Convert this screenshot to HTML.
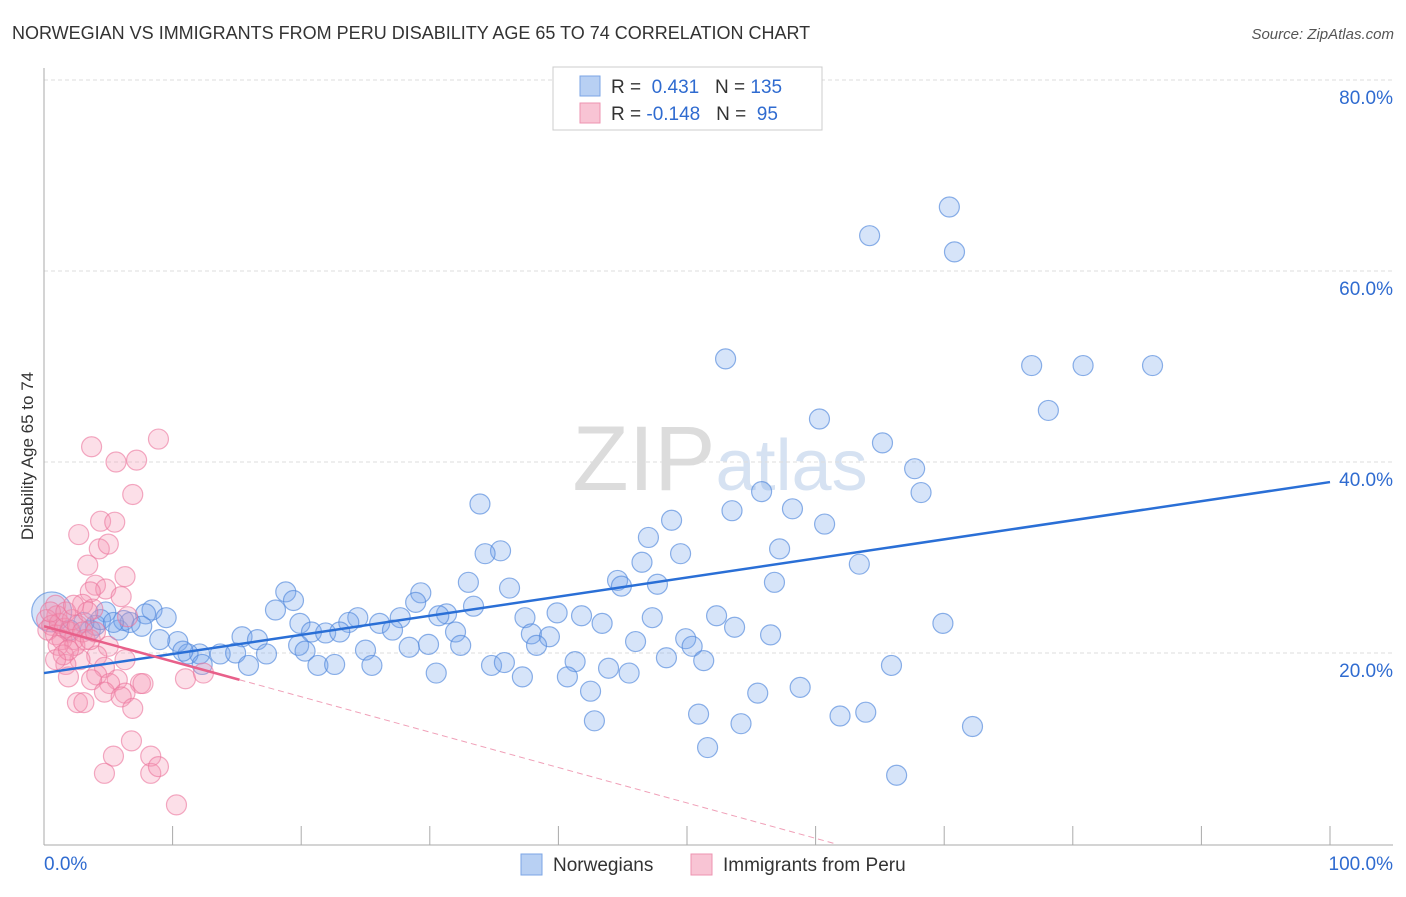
<!DOCTYPE html>
<html><head><meta charset="utf-8"><style>
body{margin:0;background:#fff;font-family:"Liberation Sans",sans-serif;}
svg text{font-family:"Liberation Sans",sans-serif;}
</style></head><body>
<svg id="chart" width="1406" height="892" viewBox="0 0 1406 892" xmlns="http://www.w3.org/2000/svg">
<text x="12" y="39" font-size="18" fill="#333">NORWEGIAN VS IMMIGRANTS FROM PERU DISABILITY AGE 65 TO 74 CORRELATION CHART</text>
<text x="1394" y="39" font-size="15" fill="#555" text-anchor="end" font-style="italic">Source: ZipAtlas.com</text>
<text x="720" y="490" font-size="92" fill="#e4e4e4" text-anchor="middle" font-family="Liberation Serif"><tspan fill="#dcdcdc">ZIP</tspan><tspan fill="#d6e2f2" font-family="Liberation Sans" font-size="72">atlas</tspan></text>
<text transform="translate(33,456) rotate(-90)" font-size="17" fill="#333" text-anchor="middle">Disability Age 65 to 74</text>
<g id="grid"></g><g id="axes"></g><g id="pts"></g><g id="lines"></g>
<g>
<rect x="553" y="67" width="269" height="63" fill="#fff" stroke="#ccc"/>
<rect x="580" y="76" width="20" height="20" fill="#b8d0f3" stroke="#7ba5e6"/>
<text x="611" y="93" font-size="19" fill="#333">R = <tspan fill="#2f6bd0">&#160;0.431</tspan>&#160;&#160;&#160;N = <tspan fill="#2f6bd0">135</tspan></text>
<rect x="580" y="103" width="20" height="20" fill="#f8c4d4" stroke="#ee93b0"/>
<text x="611" y="120" font-size="19" fill="#333">R = <tspan fill="#2f6bd0">-0.148</tspan>&#160;&#160;&#160;N = <tspan fill="#2f6bd0">&#160;95</tspan></text>
</g>
<g>
<rect x="521" y="854" width="21" height="21" fill="#b8d0f3" stroke="#7ba5e6"/>
<text x="553" y="871" font-size="19" fill="#333">Norwegians</text>
<rect x="691" y="854" width="21" height="21" fill="#f8c4d4" stroke="#ee93b0"/>
<text x="723" y="871" font-size="19" fill="#333">Immigrants from Peru</text>
</g>
</svg>
<script>
const blueX=[70.4,64.2,70.8,53.0,76.8,80.8,86.2,78.1,60.3,65.2,67.7,68.2,55.8,33.9,53.5,58.2,60.7,48.8,47.0,35.5,34.3,49.5,57.2,46.5,63.4,33.0,36.2,44.6,44.9,47.7,56.8,29.3,18.8,19.4,28.9,33.4,18.0,8.4,4.8,7.9,9.5,41.8,39.9,37.4,52.3,69.9,47.3,43.4,27.7,24.4,26.1,31.3,30.7,23.7,19.9,20.8,21.9,23.0,27.1,32.0,37.9,39.3,53.7,56.5,49.9,50.4,46.0,38.3,10.4,9.0,15.4,16.6,19.8,29.9,32.4,25.0,28.4,13.7,12.1,11.2,10.8,14.9,17.3,15.9,20.3,21.3,22.6,25.5,34.8,35.8,41.3,43.9,45.5,48.4,51.3,65.9,30.5,37.2,40.7,58.8,42.5,55.5,50.9,61.9,63.9,54.2,72.2,42.8,51.6,66.3,12.3,5.8,6.2,6.7,7.6,3.6,4.0,3.1,4.4,5.4,2.0,0.6];
const blueY=[66.7,63.7,62.0,50.8,50.1,50.1,50.1,45.4,44.5,42.0,39.3,36.8,36.9,35.6,34.9,35.1,33.5,33.9,32.1,30.7,30.4,30.4,30.9,29.5,29.3,27.4,26.8,27.6,27.0,27.2,27.4,26.3,26.4,25.5,25.3,24.9,24.5,24.5,24.3,24.1,23.7,23.9,24.2,23.7,23.9,23.1,23.7,23.1,23.7,23.7,23.1,24.1,23.9,23.2,23.1,22.2,22.1,22.2,22.4,22.2,22.0,21.7,22.7,21.9,21.5,20.7,21.2,20.8,21.2,21.4,21.7,21.4,20.8,20.9,20.8,20.3,20.6,19.9,19.9,19.9,20.2,20.0,19.9,18.7,20.2,18.7,18.8,18.7,18.7,19.0,19.1,18.4,17.9,19.5,19.2,18.7,17.9,17.5,17.5,16.4,16.0,15.8,13.6,13.4,13.8,12.6,12.3,12.9,10.1,7.2,18.8,22.4,23.4,23.2,22.8,22.4,22.9,23.2,23.5,23.2,22.4,24.3];
const pinkX=[8.9,3.7,5.6,7.2,6.9,2.7,4.4,5.5,4.3,5.0,3.4,6.3,4.0,4.8,3.6,6.0,3.0,3.8,0.9,1.0,6.5,2.3,5.0,4.1,2.8,1.7,4.7,6.3,4.1,5.7,5.1,3.7,7.5,7.7,11.0,12.4,1.9,2.6,3.1,4.7,6.3,6.0,6.9,6.8,5.4,8.3,4.7,8.3,8.9,10.3,0.2,0.3,0.6,0.9,1.2,1.4,1.6,2.0,2.2,2.4,2.6,3.0,3.2,1.1,0.5,1.7,2.3,1.5,1.9,3.6,4.0,3.4,0.9];
const pinkY=[42.4,41.6,40.0,40.2,36.6,32.4,33.8,33.7,30.9,31.4,29.2,28.0,27.1,26.7,26.4,25.9,25.1,24.6,25.0,23.9,23.8,21.4,20.7,19.7,19.3,18.8,18.5,19.3,17.7,17.2,16.8,17.2,16.8,16.8,17.3,17.9,17.5,14.8,14.8,15.9,15.8,15.4,14.2,10.8,9.2,9.2,7.4,7.4,8.1,4.1,23.5,22.4,22.9,21.9,23.1,21.4,22.6,22.2,23.5,20.8,22.9,22.2,21.4,20.8,24.3,24.3,25.0,19.8,20.3,21.4,22.2,24.3,19.3];
const blueTrend=[17.9,37.9];   // y at x=0 and x=100
const pinkTrend=[22.8,17.2,15.2,61.6]; // y at 0, y at solid end, solid end x, zero-crossing x
const yTicks=[20,40,60,80];
const yTickLabels=["20.0%","40.0%","60.0%","80.0%"];
const xTicks=[0,10,20,30,40,50,60,70,80,90,100];

const NS="http://www.w3.org/2000/svg";
const sx=v=>44+v*12.86, sy=v=>844-v*9.55;
function mk(tag,attrs,parent){const e=document.createElementNS(NS,tag);for(const k in attrs)e.setAttribute(k,attrs[k]);document.getElementById(parent).appendChild(e);return e;}
yTicks.forEach((t,i)=>{
 const g=mk('line',{x1:44,x2:1393,y1:sy(t),y2:sy(t),stroke:'#ddd','stroke-dasharray':'4,3'},'grid');
 
 
 const l=mk('text',{x:1393,y:sy(t)+24,'font-size':19,fill:'#2f6bd0','text-anchor':'end'},'grid');
 
 
 l.textContent=yTickLabels[i];
});
const ax=mk('line',{x1:44,x2:44,y1:68,y2:845,stroke:'#aaa'},'axes');


const bx=mk('line',{x1:44,x2:1393,y1:845,y2:845,stroke:'#aaa'},'axes');


xTicks.forEach(t=>{
 const k=mk('line',{x1:sx(t),x2:sx(t),y1:826,y2:845,stroke:'#aaa'},'axes');
 
 
});
const xl0=mk('text',{x:44,y:870,'font-size':19,fill:'#2f6bd0'},'axes');


xl0.textContent='0.0%';
const xl1=mk('text',{x:1393,y:870,'font-size':19,fill:'#2f6bd0','text-anchor':'end'},'axes');


xl1.textContent='100.0%';
blueX.forEach((x,i)=>{
 const r=(i===blueX.length-1)?20:10;
 const c=mk('circle',{cx:sx(x),cy:sy(blueY[i]),r:r,fill:'rgba(120,165,235,0.3)',stroke:'rgba(80,135,220,0.65)','stroke-width':1.2},'pts');
 
 
});
pinkX.forEach((x,i)=>{
 const c=mk('circle',{cx:sx(x),cy:sy(pinkY[i]),r:10,fill:'rgba(245,150,180,0.3)',stroke:'rgba(235,115,155,0.6)','stroke-width':1.2},'pts');
 
 
});
const bl=mk('line',{x1:sx(0),y1:sy(blueTrend[0]),x2:sx(100),y2:sy(blueTrend[1]),stroke:'#2a6fd6','stroke-width':2.5},'lines');


const pl=mk('line',{x1:sx(0),y1:sy(pinkTrend[0]),x2:sx(pinkTrend[2]),y2:sy(pinkTrend[1]),stroke:'#e8608a','stroke-width':2.5},'lines');


const pd=mk('line',{x1:sx(pinkTrend[2]),y1:sy(pinkTrend[1]),x2:sx(pinkTrend[3]),y2:sy(0),stroke:'#f0a0b8','stroke-width':1,'stroke-dasharray':'6,4'},'lines');


</script>
</body></html>
